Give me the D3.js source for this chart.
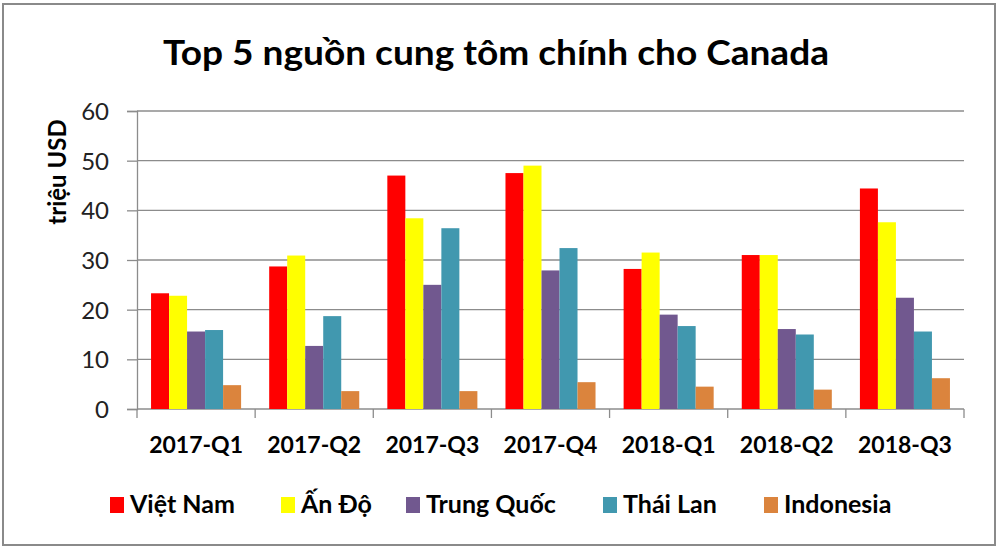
<!DOCTYPE html>
<html>
<head>
<meta charset="utf-8">
<script src="https://cdn.jsdelivr.net/npm/d3@7"></script>
<style>
  body { margin: 0; background: #fff; }
  svg text { font-family: Lato, "Open Sans", sans-serif; }
</style>
</head>
<body>
<svg class="board" width="1000" height="550"></svg>
<script>
// data (triệu USD)
var quarters = ['2017-Q1', '2017-Q2', '2017-Q3', '2017-Q4', '2018-Q1', '2018-Q2', '2018-Q3'];
var sources = ['Việt Nam', 'Ấn Độ', 'Trung Quốc', 'Thái Lan', 'Indonesia'];
var colors = ['#ff0000', '#ffff00', '#71588f', '#4198af', '#db843d'];
var vietNam   = [23.3, 28.7, 47.0, 47.5, 28.2, 31.0, 44.4];
var anDo      = [22.8, 30.9, 38.4, 49.0, 31.5, 31.0, 37.6];
var trungQuoc = [15.6, 12.7, 25.0, 27.9, 19.0, 16.1, 22.4];
var thaiLan   = [15.9, 18.7, 36.4, 32.4, 16.7, 15.0, 15.6];
var indonesia = [4.8, 3.6, 3.6, 5.4, 4.5, 3.9, 6.2];
var yTicks = [0, 10, 20, 30, 40, 50, 60];

var series = [vietNam, anDo, trungQuoc, thaiLan, indonesia];

var svg = d3.select('.board');

// frame round the chart
svg.append('rect')
  .attr('x', 3).attr('y', 4)
  .attr('width', 992).attr('height', 541)
  .attr('fill', 'none')
  .attr('stroke', '#8a8a8a')
  .attr('stroke-width', 2);

//title
svg.append('text')
  .attr('x', 496).attr('y', 65)
  .attr('text-anchor', 'middle')
  .attr('font-size', 34)
  .attr('font-weight', 'bold')
  .attr('textLength', 666)
  .attr('lengthAdjust', 'spacingAndGlyphs')
  .text('Top 5 nguồn cung tôm chính cho Canada');

var plotLeft = 137, plotRight = 964, plotTop = 111, plotBottom = 409;

var x0 = d3.scaleBand().domain(quarters).range([plotLeft, plotRight]);
var x1 = d3.scaleBand().domain(sources).range([0, x0.bandwidth()]).paddingOuter(0.78);
var y = d3.scaleLinear().domain([0, 60]).range([plotBottom, plotTop]);

//gridlines
svg.selectAll('.grid')
  .data(yTicks.slice(1))
  .enter()
  .append('line')
  .attr('class', 'grid')
  .attr('x1', plotLeft).attr('x2', plotRight)
  .attr('y1', function (d) { return y(d); })
  .attr('y2', function (d) { return y(d); })
  .attr('stroke', '#8c8c8c')
  .attr('stroke-width', 1.3);

//y axis
var yAxis = svg.append('g')
  .attr('transform', 'translate(' + plotLeft + ',0)')
  .call(d3.axisLeft(y).tickValues(yTicks).tickSize(10).tickPadding(18));
yAxis.select('.domain').attr('stroke', '#8c8c8c').attr('stroke-width', 1.3);
yAxis.selectAll('.tick line').attr('stroke', '#8c8c8c').attr('stroke-width', 1.3);
yAxis.selectAll('.tick text')
  .attr('font-size', 24)
  .attr('fill', '#222')
  .attr('dy', '0.36em');

svg.append('text')
  .attr('transform', 'translate(66,172) rotate(-90)')
  .attr('text-anchor', 'middle')
  .attr('font-size', 24)
  .attr('font-weight', 'bold')
  .text('triệu USD');

//x axis with boundary ticks
var xAxis = svg.append('g');
xAxis.append('line')
  .attr('x1', plotLeft).attr('x2', plotRight)
  .attr('y1', plotBottom).attr('y2', plotBottom)
  .attr('stroke', '#8c8c8c').attr('stroke-width', 1.3);
xAxis.selectAll('.xtick')
  .data(quarters.concat(['end']))
  .enter()
  .append('line')
  .attr('class', 'xtick')
  .attr('x1', function (d, i) { return plotLeft + i * x0.step(); })
  .attr('x2', function (d, i) { return plotLeft + i * x0.step(); })
  .attr('y1', plotBottom).attr('y2', plotBottom + 9)
  .attr('stroke', '#8c8c8c').attr('stroke-width', 1.3);
xAxis.selectAll('.xlabel')
  .data(quarters)
  .enter()
  .append('text')
  .attr('class', 'xlabel')
  .attr('x', function (d) { return x0(d) + x0.bandwidth() / 2; })
  .attr('y', 453)
  .attr('text-anchor', 'middle')
  .attr('font-size', 23)
  .attr('font-weight', 'bold')
  .text(function (d) { return d; });

//bars
var groups = svg.selectAll('.group')
  .data(quarters)
  .enter()
  .append('g')
  .attr('class', 'group')
  .attr('transform', function (d) { return 'translate(' + x0(d) + ',0)'; });

groups.selectAll('rect')
  .data(function (q, qi) {
    return sources.map(function (s, si) {
      return { source: s, value: series[si][qi], color: colors[si] };
    });
  })
  .enter()
  .append('rect')
  .attr('x', function (d) { return x1(d.source); })
  .attr('y', function (d) { return y(d.value); })
  .attr('width', x1.bandwidth())
  .attr('height', function (d) { return plotBottom - y(d.value); })
  .attr('fill', function (d) { return d.color; });

//legend
var legendX = [110, 281, 406, 603, 764];
var legend = svg.selectAll('.legend')
  .data(sources)
  .enter()
  .append('g')
  .attr('class', 'legend')
  .attr('transform', function (d, i) { return 'translate(' + legendX[i] + ',497)'; });
legend.append('rect')
  .attr('width', 14).attr('height', 16)
  .attr('fill', function (d, i) { return colors[i]; });
legend.append('text')
  .attr('x', 20).attr('y', 16)
  .attr('font-size', 25)
  .attr('font-weight', 'bold')
  .text(function (d) { return d; });
</script>
</body>
</html>
